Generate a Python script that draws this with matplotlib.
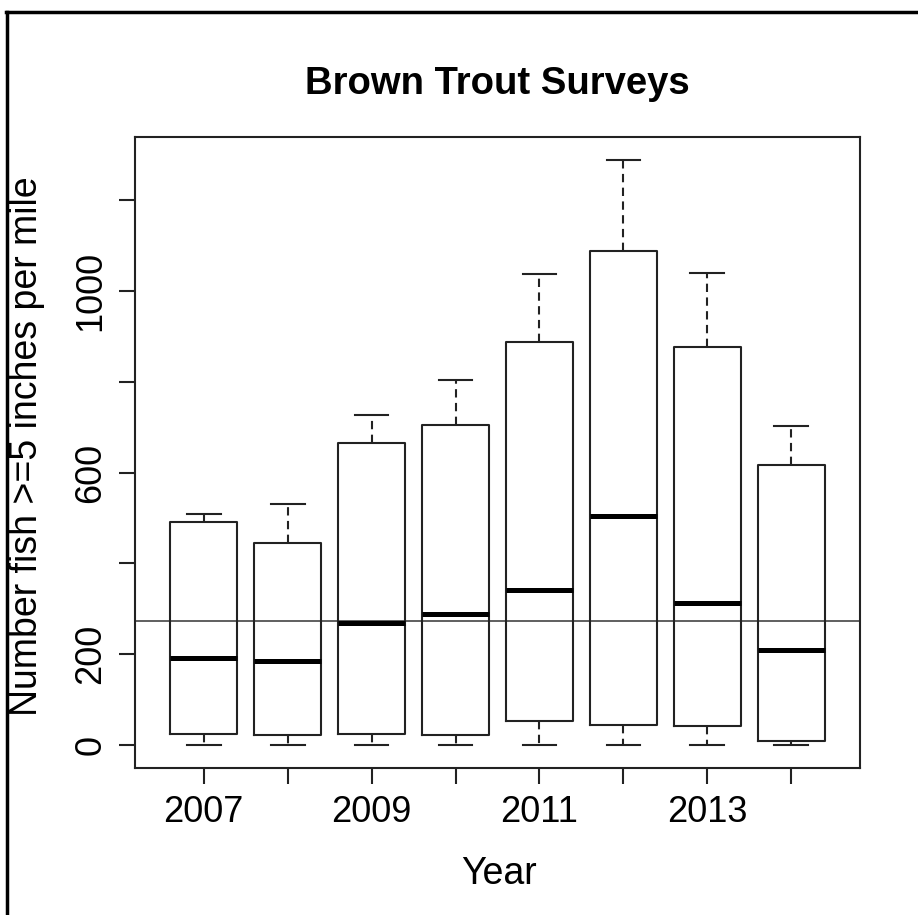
import matplotlib
matplotlib.use("Agg")
import matplotlib.pyplot as plt
from matplotlib.lines import Line2D

plt.rcParams['font.family'] = ['Liberation Sans', 'DejaVu Sans']

# valores (numero de peces >= 5 pulgadas por milla)
anios = [2007, 2008, 2009, 2010, 2011, 2012, 2013, 2014]
bigote_inf = [0, 0, 0, 0, 0, 0, 0, 0]
cuartil1 = [23, 22, 24, 21, 53, 43, 42, 9]
mediana = [191, 184, 269, 288, 342, 504, 312, 210]
cuartil3 = [492, 446, 666, 705, 889, 1089, 878, 617]
bigote_sup = [508, 531, 728, 805, 1038, 1289, 1041, 702]
linea_ref = 273
etiquetas_x = ["2007", "", "2009", "", "2011", "", "2013", ""]
ticks_y = [0, 200, 400, 600, 800, 1000, 1200]
etiquetas_y = ["0", "200", "", "600", "", "1000", ""]

stats = []
for i in range(len(anios)):
    stats.append({"whislo": bigote_inf[i], "q1": cuartil1[i], "med": mediana[i],
                  "q3": cuartil3[i], "whishi": bigote_sup[i], "fliers": []})

fig = plt.figure(figsize=(9.18, 9.15), dpi=100)
ax = fig.add_axes([135/918, 1-768.3/915, (860-135)/918, (768.3-136.7)/915])

col = "#222222"
ax.bxp(stats, positions=anios, widths=0.8, capwidths=0.4, showfliers=False,
       boxprops=dict(color=col, linewidth=1.5),
       medianprops=dict(color="black", linewidth=3.6, solid_capstyle="butt"),
       whiskerprops=dict(color=col, linewidth=1.5, linestyle=(0, (4, 2.6))),
       capprops=dict(color=col, linewidth=1.5))
ax.axhline(linea_ref, color="#444444", linewidth=1.2, zorder=0)

rango = max(bigote_sup) - min(bigote_inf)
ax.set_ylim(min(bigote_inf) - 0.04*rango, max(bigote_sup) + 0.04*rango)
ax.set_xlim(anios[0] - 0.82, anios[-1] + 0.82)

ax.set_xticks(anios)
ax.set_xticklabels(etiquetas_x)
ax.set_yticks(ticks_y)
ax.set_yticklabels(etiquetas_y, rotation=90, va="center")
ax.tick_params(axis="both", labelsize=26, color=col, width=1.5, length=11.3, pad=8)
for s in ax.spines.values():
    s.set_color(col)
    s.set_linewidth(1.5)

fig.text(497/918, 1-94/915, "Brown Trout Surveys", ha="center", va="baseline",
         fontsize=27.5, fontweight="bold")
fig.text(499/918, 1-884/915, "Year", ha="center", va="baseline", fontsize=27)
fig.text(27/918, 1-446/915, "Number fish >=5 inches per mile", ha="center",
         va="center", rotation=90, fontsize=27)

# marco exterior (solo arriba e izquierda)
fig.add_artist(Line2D([6/918, 1], [1-12/915, 1-12/915], color="black", linewidth=2.5,
                      transform=fig.transFigure))
fig.add_artist(Line2D([7/918, 7/918], [0, 1-12/915], color="black", linewidth=2.5,
                      transform=fig.transFigure))

fig.savefig("out.png", dpi=100, facecolor="white")
